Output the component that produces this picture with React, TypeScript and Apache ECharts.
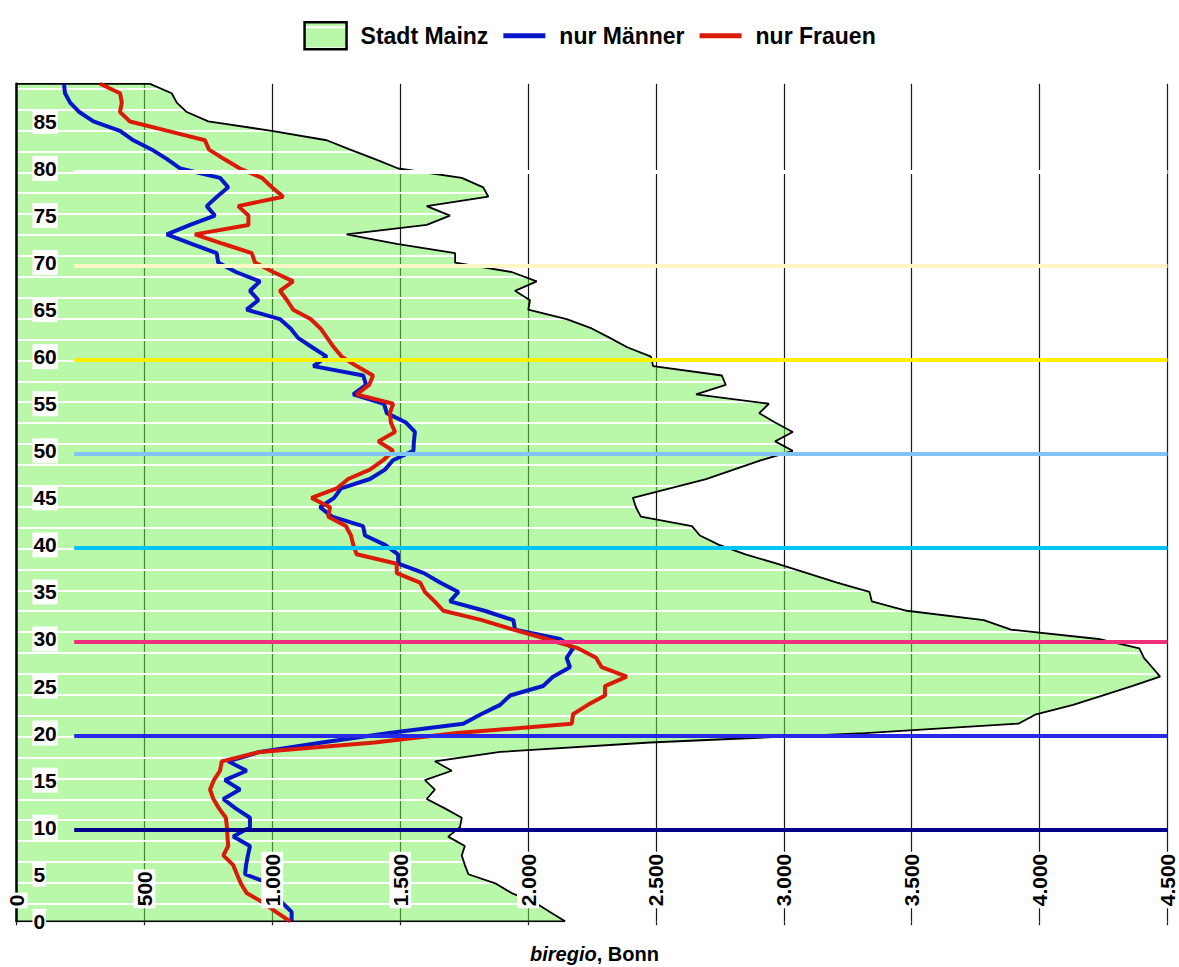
import React, { useEffect, useRef } from "react";
import * as echarts from "echarts";

// Ages 0..89 (category axis, bottom to top)
const ages: string[] = Array.from({ length: 90 }, (_, i) => String(i));

// Stadt Mainz (ages 0..89)
const mainz = [
  2145, 2086, 2027, 1936, 1875, 1767, 1753, 1741, 1753, 1688,
  1734, 1741, 1675, 1604, 1636, 1597, 1702, 1636, 1891, 2477,
  3317, 3917, 3986, 4131, 4248, 4361, 4471, 4440, 4408, 4390,
  4230, 3888, 3782, 3481, 3344, 3335, 3208, 3091, 2973, 2850,
  2747, 2672, 2641, 2441, 2422, 2410, 2555, 2696, 2804, 2912,
  3035, 2966, 3035, 2966, 2904, 2942, 2657, 2773, 2758, 2489,
  2481, 2388, 2320, 2249, 2151, 2001, 2008, 1949, 2034, 1936,
  1715, 1715, 1487, 1291, 1604, 1695, 1604, 1845, 1825, 1741,
  1493, 1402, 1305, 1213, 998, 750, 666, 627, 607, 522,
];

// nur Männer (ages 0..89)
const maenner = [
  1076, 1076, 1038, 1005, 991, 894, 898, 905, 913, 848,
  913, 913, 857, 809, 874, 815, 900, 828, 952, 1195,
  1457, 1747, 1816, 1891, 1930, 2059, 2098, 2164, 2151, 2176,
  2125, 1949, 1943, 1830, 1695, 1728, 1656, 1593, 1493, 1492,
  1441, 1363, 1355, 1234, 1187, 1242, 1269, 1382, 1441, 1472,
  1552, 1554, 1558, 1523, 1448, 1437, 1317, 1367, 1356, 1161,
  1213, 1156, 1101, 1072, 1030, 900, 946, 913, 952, 858,
  789, 783, 685, 588, 679, 776, 744, 784, 828, 796,
  640, 589, 530, 457, 405, 301, 246, 210, 190, 186,
];

// nur Frauen (ages 0..89)
const frauen = [
  1070, 1015, 964, 900, 878, 862, 847, 809, 828, 825,
  823, 819, 792, 770, 757, 772, 796, 803, 952, 1400,
  1722, 2171, 2176, 2234, 2301, 2301, 2386, 2288, 2266, 2197,
  2073, 1943, 1820, 1669, 1635, 1597, 1578, 1487, 1487, 1330,
  1317, 1308, 1288, 1219, 1226, 1154, 1252, 1297, 1382, 1434,
  1473, 1415, 1480, 1464, 1460, 1473, 1330, 1379, 1394, 1330,
  1272, 1241, 1215, 1189, 1150, 1082, 1058, 1030, 1082, 1004,
  933, 920, 808, 698, 907, 907, 867, 1043, 999, 960,
  874, 812, 753, 737, 591, 444, 405, 412, 405, 327,
];

const xTickLabels = ["0", "500", "1.000", "1.500", "2.000", "2.500", "3.000", "3.500", "4.000", "4.500"];
const X_STEP = 500;
const X_MAX = 4500;

// coloured age lines
const lineAges = [10, 20, 30, 40, 50, 60, 70, 80];
const lineColors = ["#00008c", "#2828e8", "#f0307c", "#00c4f4", "#80c4f6", "#fff000", "#fff6c8", "#ffffff"];
const LINE_START = 226;

const FONT = "'Liberation Sans', Arial, sans-serif";
const LINE_ICON = "path://M0,0L44,0L44,5L0,5Z";

function makePattern() {
  const c = document.createElement("canvas");
  c.width = 4;
  c.height = 209;
  const ctx = c.getContext("2d")!;
  ctx.fillStyle = "rgba(113,241,81,0.5)";
  ctx.fillRect(0, 0, 4, 209);
  for (let n = 0; n < 10; n++) {
    const y = Math.round(5.3 + n * 20.9) - 1;
    ctx.clearRect(0, y, 4, 2);
    ctx.fillStyle = "#ffffff";
    ctx.fillRect(0, y, 4, 2);
  }
  return { image: c.toDataURL(), repeat: "repeat", imageWidth: 4, imageHeight: 209 } as any;
}

export default function App() {
  const ref = useRef<HTMLDivElement>(null);
  useEffect(() => {
    if (!ref.current) return;
    const chart = echarts.init(ref.current, undefined, { renderer: "svg" });
    const pattern = makePattern();
    const option: any = {
      animation: false,
      backgroundColor: "#ffffff",
      title: {
        text: "{a|biregio}{b|, Bonn}",
        left: 530,
        top: 944,
        padding: 0,
        textStyle: {
          rich: {
            a: { fontStyle: "italic", fontWeight: "bold", fontSize: 20, fontFamily: FONT, color: "#000" },
            b: { fontWeight: "bold", fontSize: 20, fontFamily: FONT, color: "#000" },
          },
        },
      },
      legend: {
        top: 16,
        left: "center",
        itemWidth: 42,
        itemHeight: 27,
        itemGap: 15,
        textStyle: { fontSize: 23, fontWeight: "bold", color: "#000", fontFamily: FONT, padding: [0, 0, 0, 9] },
        data: [
          { name: "Stadt Mainz", icon: "rect", itemStyle: { color: pattern, borderColor: "#000", borderWidth: 2.5 } },
          { name: "nur Männer", icon: LINE_ICON, itemStyle: { color: "#0616c8" } },
          { name: "nur Frauen", icon: LINE_ICON, itemStyle: { color: "#dc1a08" } },
        ],
      },
      grid: { left: 16.4, right: 11.5, top: 83.8, bottom: 45.7 },
      xAxis: [
        {
          type: "value",
          min: 0,
          max: X_MAX,
          interval: X_STEP,
          position: "bottom",
          axisLine: { show: false },
          axisTick: { show: false },
          axisLabel: { show: false },
          splitLine: { show: true, lineStyle: { color: "#1a1a1a", width: 1.2 } },
        },
        {
          type: "value",
          min: 0,
          max: X_MAX,
          interval: X_STEP,
          position: "bottom",
          z: 10,
          axisLine: { show: false },
          axisTick: { show: true, length: 4, lineStyle: { color: "#222", width: 1.2 } },
          splitLine: { show: false },
          axisLabel: {
            inside: true,
            rotate: 90,
            margin: 13,
            showMinLabel: true,
            showMaxLabel: true,
            formatter: (v: number) => xTickLabels[Math.round(v / X_STEP)],
            fontSize: 21,
            fontWeight: "bold",
            fontFamily: FONT,
            color: "#000",
            backgroundColor: "#fff",
            padding: [1, 2, 0, 2],
          },
        },
      ],
      yAxis: [
        {
          type: "category",
          data: ages,
          boundaryGap: false,
          z: 10,
          axisLine: { show: true, lineStyle: { color: "#000", width: 2.5 } },
          axisTick: { show: false },
          splitLine: { show: false },
          axisLabel: {
            inside: true,
            margin: 16,
            interval: (i: number) => i % 5 === 0,
            fontSize: 21,
            fontWeight: "bold",
            fontFamily: FONT,
            color: "#000",
            backgroundColor: "#fff",
            padding: [4, 1, 0, 1],
          },
        },
        {
          type: "value",
          show: false,
          min: 0.3,
          max: 89.3,
        },
      ],
      series: [
        {
          name: "Stadt Mainz",
          type: "line",
          data: mainz,
          symbol: "none",
          z: 2,
          lineStyle: { color: "#000", width: 1.8 },
          itemStyle: { color: pattern },
          areaStyle: { color: pattern, opacity: 1 },
        },
        {
          name: "nur Männer",
          type: "line",
          data: maenner,
          symbol: "none",
          z: 3,
          color: "#0616c8",
          lineStyle: { color: "#0616c8", width: 4 },
        },
        {
          name: "nur Frauen",
          type: "line",
          data: frauen,
          symbol: "none",
          z: 3,
          color: "#dc1a08",
          lineStyle: { color: "#dc1a08", width: 4 },
        },
        {
          name: "topEdge",
          type: "line",
          data: [[0, ages.length - 1], [mainz[mainz.length - 1], ages.length - 1]],
          symbol: "none",
          z: 2,
          silent: true,
          lineStyle: { color: "#000", width: 1.8 },
        },
        {
          name: "bottomEdge",
          type: "line",
          data: [[0, 0], [mainz[0], 0]],
          symbol: "none",
          z: 2,
          silent: true,
          lineStyle: { color: "#000", width: 1.8 },
        },
        {
          name: "ageLines",
          type: "line",
          yAxisIndex: 1,
          data: [],
          symbol: "none",
          silent: true,
          markLine: {
            silent: true,
            symbol: ["none", "none"],
            label: { show: false },
            z: 5,
            data: lineAges.map((a, i) => [
              { coord: [LINE_START, a], lineStyle: { color: lineColors[i], width: 4, type: "solid" } },
              { coord: [X_MAX, a] },
            ]),
          },
        },
      ],
    };
    chart.setOption(option);
    return () => chart.dispose();
  }, []);
  return (
    <div
      ref={ref}
      style={{ position: "fixed", left: 0, top: 0, width: 1179, height: 967, background: "#fff" }}
    />
  );
}
